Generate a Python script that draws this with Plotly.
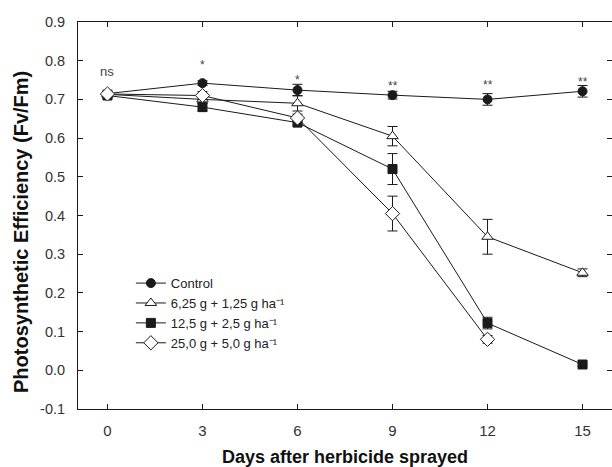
import plotly.graph_objects as go

# Sampling days after spraying
days = [0, 3, 6, 9, 12, 15]

# Fv/Fm means and standard errors per treatment
control = [0.715, 0.742, 0.724, 0.711, 0.700, 0.721]
control_err = [0.006, 0.006, 0.015, 0.010, 0.015, 0.015]

dose_low = [0.713, 0.700, 0.690, 0.605, 0.345, 0.252]
dose_low_err = [0.006, 0.010, 0.020, 0.025, 0.045, 0.010]

dose_mid = [0.710, 0.680, 0.640, 0.520, 0.122, 0.015]
dose_mid_err = [0.006, 0.010, 0.006, 0.040, 0.015, 0.004]

dose_high = [0.714, 0.710, 0.652, 0.405, 0.080, None]
dose_high_err = [0.010, 0.010, 0.010, 0.045, 0.010, 0]

series_names = [
    "Control",
    "6,25 g + 1,25 g ha\u207b\u00b9",
    "12,5 g + 2,5 g ha\u207b\u00b9",
    "25,0 g + 5,0 g ha\u207b\u00b9",
]

# Significance labels above each sampling day
sig_labels = ["ns", "*", "*", "**", "**", "**"]
sig_y = [0.772, 0.790, 0.750, 0.735, 0.737, 0.745]

y_ticks = [-0.1, 0.0, 0.1, 0.2, 0.3, 0.4, 0.5, 0.6, 0.7, 0.8, 0.9]
y_tick_text = ["-0.1", "0.0", "0.1", "0.2", "0.3", "0.4", "0.5", "0.6", "0.7", "0.8", "0.9"]

LINE = "#1a1a1a"
FONT = "Liberation Sans, Arial"

styles = [
    dict(symbol="circle", size=9, color=LINE, line=dict(color=LINE, width=1)),
    dict(symbol="triangle-up", size=10, color="white", line=dict(color=LINE, width=1)),
    dict(symbol="square", size=9, color=LINE, line=dict(color=LINE, width=1)),
    dict(symbol="diamond", size=11, color="white", line=dict(color=LINE, width=1)),
]

fig = go.Figure()
for name, ys, errs, mk in zip(
    series_names,
    [control, dose_low, dose_mid, dose_high],
    [control_err, dose_low_err, dose_mid_err, dose_high_err],
    styles,
):
    fig.add_trace(
        go.Scatter(
            x=days,
            y=ys,
            name=name,
            mode="lines+markers",
            line=dict(color=LINE, width=1),
            marker=mk,
            error_y=dict(type="data", array=errs, visible=True, color=LINE,
                         thickness=1, width=5),
        )
    )

for d, lab, yy in zip(days, sig_labels, sig_y):
    fig.add_annotation(
        x=d, y=yy, text=lab, showarrow=False,
        font=dict(family=FONT, size=13 if lab == "ns" else 12, color="#444"),
        yanchor="middle",
    )

# Y-axis title, set a little below the axis centre
fig.add_annotation(
    xref="paper", yref="paper", x=-0.107, y=0.457,
    xanchor="center", yanchor="middle", textangle=-90, showarrow=False,
    text="<b>Photosynthetic Efficiency (Fv/Fm)</b>",
    font=dict(family=FONT, size=20, color="#111"),
)

fig.update_layout(
    width=612,
    height=467,
    margin=dict(l=78, r=0, t=22, b=58),
    paper_bgcolor="white",
    plot_bgcolor="white",
    font=dict(family=FONT, size=14, color="#333"),
    showlegend=True,
    legend=dict(
        x=0.099, y=0.364, xanchor="left", yanchor="top",
        bgcolor="rgba(0,0,0,0)",
        font=dict(family=FONT, size=13, color="#222"),
        tracegroupgap=0,
        itemwidth=30,
    ),
)

fig.update_xaxes(
    range=[-0.93, 15.93],
    tickmode="array",
    tickvals=days,
    ticks="inside",
    ticklen=5,
    tickcolor=LINE,
    showline=True,
    linecolor=LINE,
    linewidth=1,
    mirror="ticks",
    showgrid=False,
    zeroline=False,
    ticklabelstandoff=8,
    tickfont=dict(family=FONT, size=15, color="#333"),
    title=dict(text="<b>Days after herbicide sprayed</b>",
               font=dict(family=FONT, size=18, color="#111"), standoff=14),
)

fig.update_yaxes(
    range=[-0.1, 0.9],
    tickmode="array",
    tickvals=y_ticks,
    ticktext=y_tick_text,
    ticks="inside",
    ticklen=5,
    tickcolor=LINE,
    showline=True,
    linecolor=LINE,
    linewidth=1,
    mirror="ticks",
    showgrid=False,
    zeroline=False,
    ticklabelstandoff=9,
    tickfont=dict(family=FONT, size=14.5, color="#333"),
)

fig.write_html("out.html")
